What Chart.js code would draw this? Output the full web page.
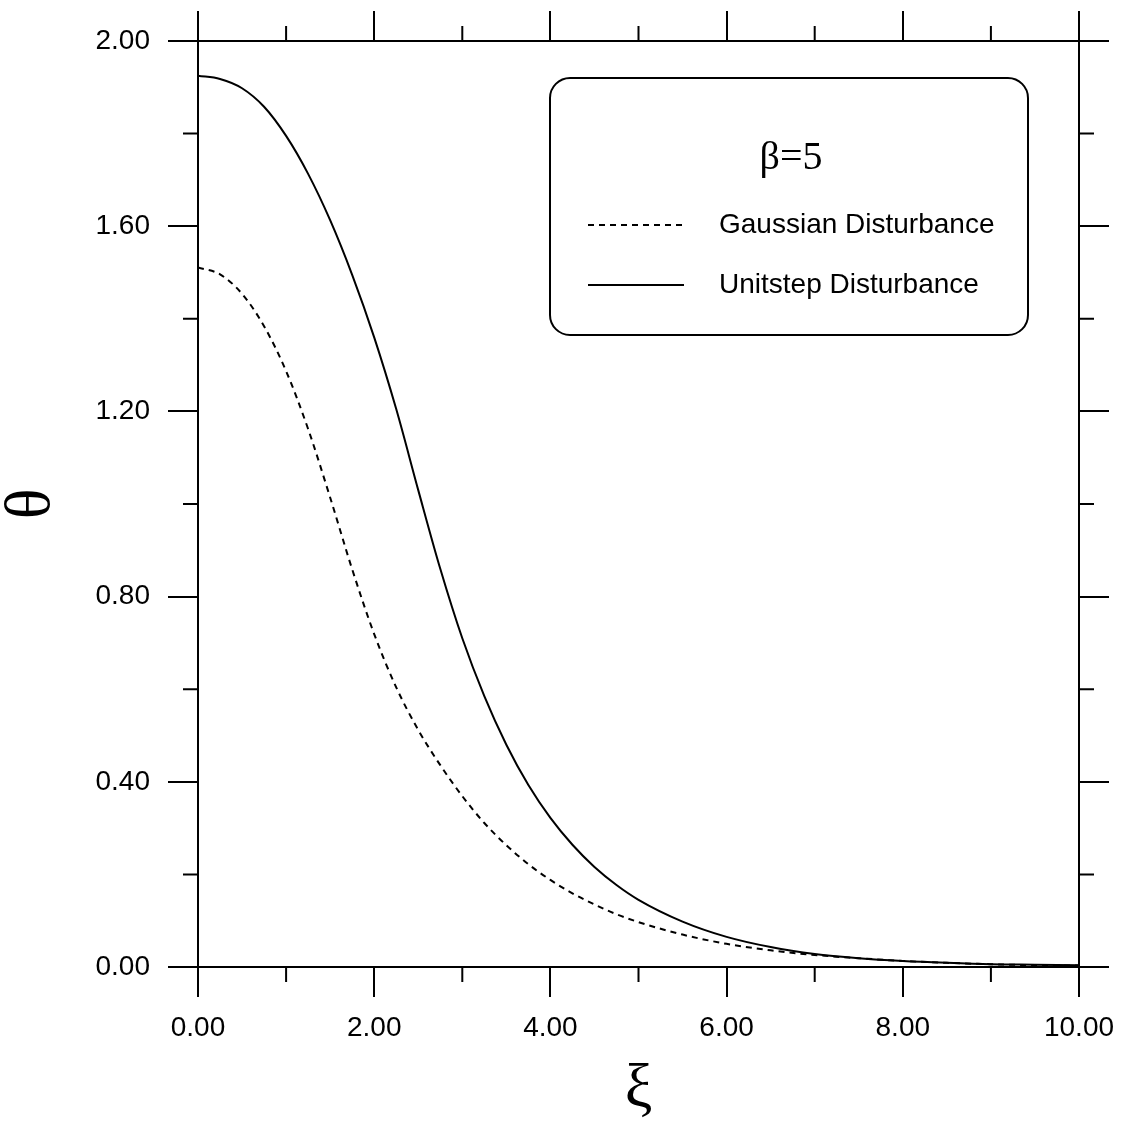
<!DOCTYPE html>
<html>
<head>
<meta charset="utf-8">
<script src="https://cdn.jsdelivr.net/npm/chart.js@4/dist/chart.umd.min.js"></script>
<style>
  html, body { margin: 0; padding: 0; background: #fff; }
  #wrap { width: 1131px; height: 1122px; }
</style>
</head>
<body>
<div id="wrap"><canvas id="chart" width="1131" height="1122"></canvas></div>
<script>
// values
var xi = [0, 0.25, 0.5, 0.75, 1, 1.25, 1.5, 1.75, 2, 2.25, 2.5, 2.75, 3, 3.25, 3.5, 3.75,
          4, 4.25, 4.5, 4.75, 5, 5.5, 6, 6.5, 7, 7.5, 8, 8.5, 9, 9.5, 10];
var gaussian = [1.511, 1.496, 1.454, 1.384, 1.287, 1.162, 1.014, 0.859, 0.719, 0.604, 0.512, 0.436,
                0.369, 0.311, 0.263, 0.222, 0.188, 0.159, 0.135, 0.114, 0.097, 0.070, 0.050,
                0.036, 0.026, 0.019, 0.013, 0.009, 0.006, 0.004, 0.003];
var unitstep = [1.925, 1.918, 1.898, 1.858, 1.795, 1.713, 1.613, 1.495, 1.360, 1.205, 1.030, 0.860,
                0.710, 0.585, 0.480, 0.393, 0.322, 0.264, 0.216, 0.177, 0.145, 0.098, 0.065,
                0.043, 0.028, 0.019, 0.013, 0.009, 0.006, 0.005, 0.004];
var seriesNames = ['Gaussian Disturbance', 'Unitstep Disturbance'];
var legendTitle = '\u03b2=5';
var xMinorTicks = [1, 3, 5, 7, 9];
var yMinorTicks = [0.2, 0.6, 1.0, 1.4, 1.8];

var sans = '"Liberation Sans", Arial, sans-serif';
var serif = '"Liberation Serif", "Times New Roman", serif';

function points(ys) {
    return ys.map(function (v, i) { return { x: xi[i], y: v }; });
}

function fixSize(w, h) {
    return function (scale) {
        if (w !== null) scale.width = w;
        if (h !== null) scale.height = h;
    };
}

var axisGrid = { drawOnChartArea: false, drawTicks: true, tickLength: 30, color: '#000', lineWidth: 2 };
var axisBorder = { display: true, color: '#000', width: 2 };

// minor ticks on all four sides, half length, outward
var minorTicks = {
    id: 'minorTicks',
    afterDraw: function (chart) {
        var ctx = chart.ctx;
        var ca = chart.chartArea;
        ctx.save();
        ctx.strokeStyle = '#000';
        ctx.lineWidth = 2;
        ctx.beginPath();
        xMinorTicks.forEach(function (v) {
            var px = chart.scales.x.getPixelForValue(v);
            ctx.moveTo(px, ca.bottom); ctx.lineTo(px, ca.bottom + 15);
            ctx.moveTo(px, ca.top); ctx.lineTo(px, ca.top - 15);
        });
        yMinorTicks.forEach(function (v) {
            var py = chart.scales.y.getPixelForValue(v);
            ctx.moveTo(ca.left, py); ctx.lineTo(ca.left - 15, py);
            ctx.moveTo(ca.right, py); ctx.lineTo(ca.right + 15, py);
        });
        ctx.stroke();
        ctx.restore();
    }
};

// boxed legend with the beta label
var boxLegend = {
    id: 'boxLegend',
    afterDraw: function (chart) {
        var ctx = chart.ctx;
        var ca = chart.chartArea;
        var l = ca.left + 352, t = ca.top + 37, r = ca.left + 830, b = ca.top + 294;
        ctx.save();
        ctx.strokeStyle = '#000';
        ctx.lineWidth = 2;
        ctx.beginPath();
        ctx.roundRect(l, t, r - l, b - t, 20);
        ctx.stroke();

        ctx.fillStyle = '#000';
        ctx.font = '40px ' + serif;
        ctx.textAlign = 'center';
        ctx.textBaseline = 'alphabetic';
        ctx.fillText(legendTitle, l + 241, t + 91);

        ctx.font = '28px ' + sans;
        ctx.textAlign = 'left';
        ctx.textBaseline = 'middle';
        chart.data.datasets.forEach(function (ds, i) {
            var y = t + 147 + i * 60;
            ctx.setLineDash(ds.borderDash || []);
            ctx.lineWidth = 1.8;
            ctx.beginPath();
            ctx.moveTo(l + 38, y);
            ctx.lineTo(l + 134, y);
            ctx.stroke();
            ctx.setLineDash([]);
            ctx.fillText(ds.label, l + 169, y);
        });
        ctx.restore();
    }
};

new Chart(document.getElementById('chart'), {
    type: 'line',
    data: {
        datasets: [
            {
                label: seriesNames[0],
                data: points(gaussian),
                borderColor: '#000',
                borderWidth: 2,
                borderDash: [6, 5],
                pointRadius: 0,
                fill: false,
                cubicInterpolationMode: 'monotone'
            },
            {
                label: seriesNames[1],
                data: points(unitstep),
                borderColor: '#000',
                borderWidth: 2,
                pointRadius: 0,
                fill: false,
                cubicInterpolationMode: 'monotone'
            }
        ]
    },
    options: {
        responsive: false,
        animation: false,
        layout: { padding: 0 },
        plugins: { legend: { display: false }, tooltip: { enabled: false } },
        scales: {
            x: {
                type: 'linear', position: 'bottom', min: 0, max: 10,
                grid: axisGrid, border: axisBorder,
                ticks: {
                    stepSize: 2, padding: 14, color: '#000',
                    font: { family: sans, size: 28 },
                    maxRotation: 0,
                    callback: function (v) { return v.toFixed(2); }
                },
                title: {
                    display: true, text: '\u03be', color: '#000',
                    font: { family: serif, size: 62, lineHeight: 1 },
                    padding: { top: 0, bottom: 1 }
                },
                afterFit: fixSize(null, 155)
            },
            y: {
                type: 'linear', position: 'left', min: 0, max: 2,
                grid: axisGrid, border: axisBorder,
                ticks: {
                    stepSize: 0.4, padding: 18, color: '#000',
                    font: { family: sans, size: 28 },
                    callback: function (v) { return v.toFixed(2); }
                },
                title: {
                    display: true, text: '\u03b8', color: '#000',
                    font: { family: serif, size: 64, lineHeight: 1 },
                    padding: { top: 0, bottom: 0 }
                },
                afterFit: fixSize(198, null)
            },
            x2: {
                type: 'linear', position: 'top', min: 0, max: 10,
                grid: axisGrid, border: axisBorder,
                ticks: { stepSize: 2, display: false },
                afterFit: fixSize(null, 41)
            },
            y2: {
                type: 'linear', position: 'right', min: 0, max: 2,
                grid: axisGrid, border: axisBorder,
                ticks: { stepSize: 0.4, display: false },
                afterFit: fixSize(52, null)
            }
        }
    },
    plugins: [minorTicks, boxLegend]
});
</script>
</body>
</html>
